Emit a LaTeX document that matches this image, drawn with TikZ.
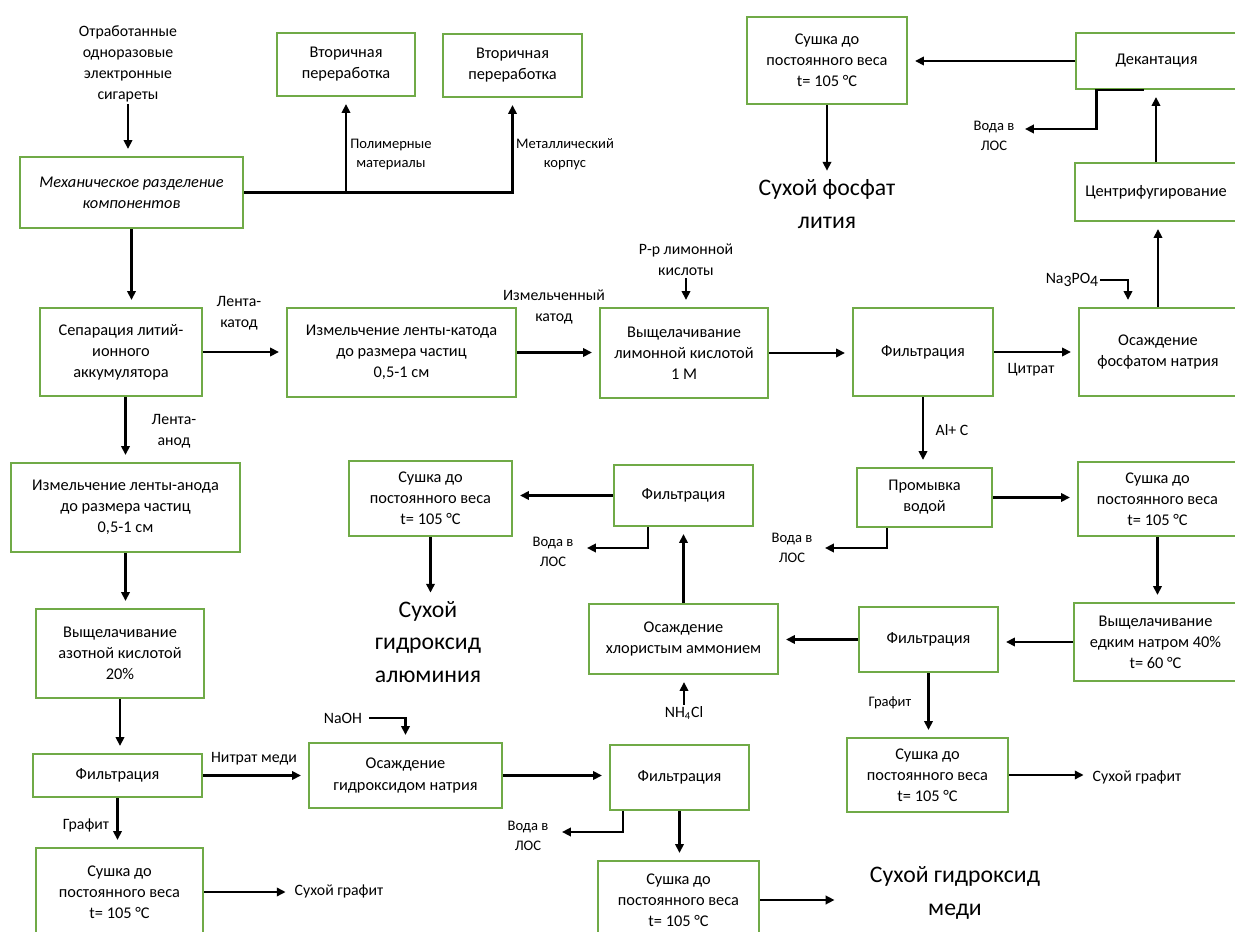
\documentclass[tikz,border=0pt]{standalone}
\usepackage{fontspec}
\setmainfont{Carlito}
\usepackage{tikz}
\usetikzlibrary{
	arrows.meta,
	calc,
	positioning
}

\definecolor{boxgreen}{RGB}{112,170,71}
\newcommand{\boxfont}{\fontsize{9.3}{12}\selectfont}
\newcommand{\lblfont}{\fontsize{9}{12}\selectfont}
\newcommand{\smlfont}{\fontsize{8.3}{11}\selectfont}
\newcommand{\bigfont}{\fontsize{13.5}{18.3}\selectfont}

\tikzset{
	stepbox/.style={draw=boxgreen, line width=1.2pt, fill=white, align=center, inner sep=2pt, font=\boxfont},
	wh/.style 2 args={minimum width=#1*0.02cm, minimum height=#2*0.02cm},
	lbl/.style={align=center, inner sep=1pt, font=\lblfont},
	sml/.style={align=center, inner sep=1pt, font=\smlfont},
	big/.style={align=center, inner sep=1pt, font=\bigfont},
	flow/.style={line width=1.2pt, -{Triangle[length=5pt,width=4.8pt]}, shorten >=4pt}
}

\begin{document}
\begin{tikzpicture}[x=0.02cm, y=-0.02cm]
		\useasboundingbox (0,0) rectangle (1235,932);
		% верхняя часть
		\node[lbl] (cig) at (128,64) {Отработанные\\одноразовые\\электронные\\сигареты};
		\node[stepbox, wh={223}{71}, font=\boxfont\itshape] (mech) at (131.5,192.5) {Механическое разделение\\компонентов};
		\node[stepbox, wh={138}{63}] (recA) at (346,64.5) {Вторичная\\переработка};
		\node[stepbox, wh={139}{63}] (recB) at (512.5,65.5) {Вторичная\\переработка};
		\node[sml] (polym) at (391,154.5) {Полимерные\\материалы};
		\node[sml] (metal) at (565,154.5) {Металлический\\корпус};
		\node[stepbox, wh={160}{87}] (dryLi) at (827,60.5) {Сушка до\\постоянного веса\\t= 105 °C};
		\node[big] (prodLi) at (827,204) {Сухой фосфат\\лития};
		\node[stepbox, wh={161}{56}] (decant) at (1156.5,61) {Декантация};
		\node[sml] (wDec) at (994,136) {Вода в\\ЛОС};
		\coordinate (wDecEnd) at (1018,129);
		\node[stepbox, wh={162}{58}] (centr) at (1156,192) {Центрифугирование};
		% ряд катода
		\node[stepbox, wh={162}{88}] (sep) at (121,352) {Сепарация литий-\\ионного\\аккумулятора};
		\node[lbl] (lCat) at (239,313) {Лента-\\катод};
		\node[stepbox, wh={229}{89}] (grindCat) at (401.5,352.5) {Измельчение ленты-катода\\до размера частиц\\0,5-1 см};
		\node[lbl] (lGrind) at (554,307) {Измельченный\\катод};
		\node[lbl] (citSol) at (686,260) {Р-р лимонной\\кислоты};
		\node[stepbox, wh={168}{90}] (leachCit) at (684,353) {Выщелачивание\\лимонной кислотой\\1 М};
		\node[stepbox, wh={140}{88}] (filtA) at (923,352) {Фильтрация};
		\node[lbl] (lCitr) at (1031,370) {Цитрат};
		\node[lbl] (na) at (1072,280) {Na\raisebox{-0.35ex}{3}PO\raisebox{-0.35ex}{4}};
		\node[stepbox, wh={158}{88}] (precPh) at (1158,352) {Осаждение\\фосфатом натрия};
		% средняя часть
		\node[lbl] (lAn) at (174,431) {Лента-\\анод};
		\node[lbl] (lAlC) at (952,430) {Al+ C};
		\node[stepbox, wh={229}{89}] (grindAn) at (125.5,507.5) {Измельчение ленты-анода\\до размера частиц\\0,5-1 см};
		\node[stepbox, wh={163}{75}] (dryAl) at (430.5,498.5) {Сушка до\\постоянного веса\\t= 105 °C};
		\node[stepbox, wh={139}{61}] (filtAl) at (683.5,495.5) {Фильтрация};
		\node[sml] (wAl) at (553,552) {Вода в\\ЛОС};
		\coordinate (wAlEnd) at (580,548);
		\node[stepbox, wh={135}{59}] (wash) at (924.5,497.5) {Промывка\\водой};
		\node[sml] (wWash) at (792,548) {Вода в\\ЛОС};
		\coordinate (wWashEnd) at (818,548);
		\node[stepbox, wh={159}{74}] (dryC) at (1157.5,499) {Сушка до\\постоянного веса\\t= 105 °C};
		\node[big] (prodAl) at (428,642) {Сухой\\гидроксид\\алюминия};
		\node[stepbox, wh={168}{89}] (leachN) at (120,653.5) {Выщелачивание\\азотной кислотой\\20\%};
		\node[stepbox, wh={189}{70}] (precAm) at (683.5,639) {Осаждение\\хлористым аммонием};
		\node[lbl] (nh) at (684,713) {NH\textsubscript{4}Cl};
		\node[stepbox, wh={139}{65}] (filtG) at (928.5,639.5) {Фильтрация};
		\node[stepbox, wh={163}{78}] (leachNa) at (1155.5,642) {Выщелачивание\\едким натром 40\%\\t= 60 °C};
		\node[sml] (lGrR) at (890,703) {Графит};
		% нижняя часть
		\node[stepbox, wh={169}{43}] (filtCu) at (117.5,775.5) {Фильтрация};
		\node[lbl] (lNitr) at (254,759) {Нитрат меди};
		\node[lbl, inner sep=4pt] (naoh) at (343,718) {NaOH};
		\node[stepbox, wh={193}{65}] (precNa) at (405.5,775.5) {Осаждение\\гидроксидом натрия};
		\node[stepbox, wh={139}{65}] (filtOH) at (679.5,777.5) {Фильтрация};
		\node[sml] (wOH) at (528,836) {Вода в\\ЛОС};
		\coordinate (wOHEnd) at (555,832);
		\node[stepbox, wh={161}{74}] (dryG) at (927.5,775) {Сушка до\\постоянного веса\\t= 105 °C};
		\node[lbl] (grR) at (1137,777) {Сухой графит};
		\node[lbl] (lGrL) at (86,825) {Графит};
		\node[stepbox, wh={167}{88}] (dryGL) at (119.5,892) {Сушка до\\постоянного веса\\t= 105 °C};
		\node[lbl] (grL) at (339,891) {Сухой графит};
		\node[stepbox, wh={161}{78}] (dryCu) at (678.5,900) {Сушка до\\постоянного веса\\t= 105 °C};
		\node[big] (prodCu) at (955,893) {Сухой гидроксид\\меди};
		% связи
		\draw[flow] (cig.south) -- (cig.south |- mech.north);
		\draw[flow] (mech.east) -| (recB.south);
		\draw[flow] (mech.east -| recA.south) -- (recA.south);
		\draw[flow] (mech.south) -- (mech.south |- sep.north);
		\draw[flow] (sep.east) -- (sep.east -| grindCat.west);
		\draw[flow] (grindCat.east) -- (grindCat.east -| leachCit.west);
		\draw[flow] (citSol.south) -- (citSol.south |- leachCit.north);
		\draw[flow] (leachCit.east) -- (leachCit.east -| filtA.west);
		\draw[flow] (filtA.east) -- (filtA.east -| precPh.west);
		\draw[flow] (na.east) -| ($(precPh.north)+(-30,0)$);
		\draw[flow] (precPh.north) -- (precPh.north |- centr.south);
		\draw[flow] (centr.north) -- (centr.north |- decant.south);
		\draw[flow] (decant.west) -- (decant.west -| dryLi.east);
		\draw[flow] ($(decant.south)+(-13,0)$) -- ++(-47,0) |- (wDecEnd);
		\draw[flow] (dryLi.south) -- (prodLi.north);
		\draw[flow] (sep.south -| grindAn.north) -- (grindAn.north);
		\draw[flow] (filtA.south) -- (filtA.south |- wash.north);
		\draw[flow] (wash.east) -- (wash.east -| dryC.west);
		\draw[flow] ($(wash.south)+(-37.5,0)$) |- (wWashEnd);
		\draw[flow] (dryC.south) -- (dryC.south |- leachNa.north);
		\draw[flow] (leachNa.west) -- (leachNa.west -| filtG.east);
		\draw[flow] (filtG.west) -- (filtG.west -| precAm.east);
		\draw[flow] (nh.north) -- (nh.north |- precAm.south);
		\draw[flow] (precAm.north) -- (precAm.north |- filtAl.south);
		\draw[flow] (filtAl.west) -- (filtAl.west -| dryAl.east);
		\draw[flow] ($(filtAl.south)+(-35.5,0)$) |- (wAlEnd);
		\draw[flow] (dryAl.south) -- (dryAl.south |- prodAl.north);
		\draw[flow] (grindAn.south) -- (grindAn.south |- leachN.north);
		\draw[flow] (leachN.south) -- (leachN.south |- filtCu.north);
		\draw[flow] (filtCu.east) -- (filtCu.east -| precNa.west);
		\draw[flow] (naoh.east) -| (precNa.north);
		\draw[flow] (precNa.east) -- (precNa.east -| filtOH.west);
		\draw[flow] ($(filtOH.south)+(-56.5,0)$) |- (wOHEnd);
		\draw[flow] (filtOH.south) -- (filtOH.south |- dryCu.north);
		\draw[flow, shorten >=19pt] (dryCu.east) -- (dryCu.east -| prodCu.west);
		\draw[flow] (filtCu.south) -- (filtCu.south |- dryGL.north);
		\draw[flow] (dryGL.east) -- (dryGL.east -| grL.west);
		\draw[flow] (filtG.south) -- (filtG.south |- dryG.north);
		\draw[flow] (dryG.east) -- (dryG.east -| grR.west);
\end{tikzpicture}
\end{document}
